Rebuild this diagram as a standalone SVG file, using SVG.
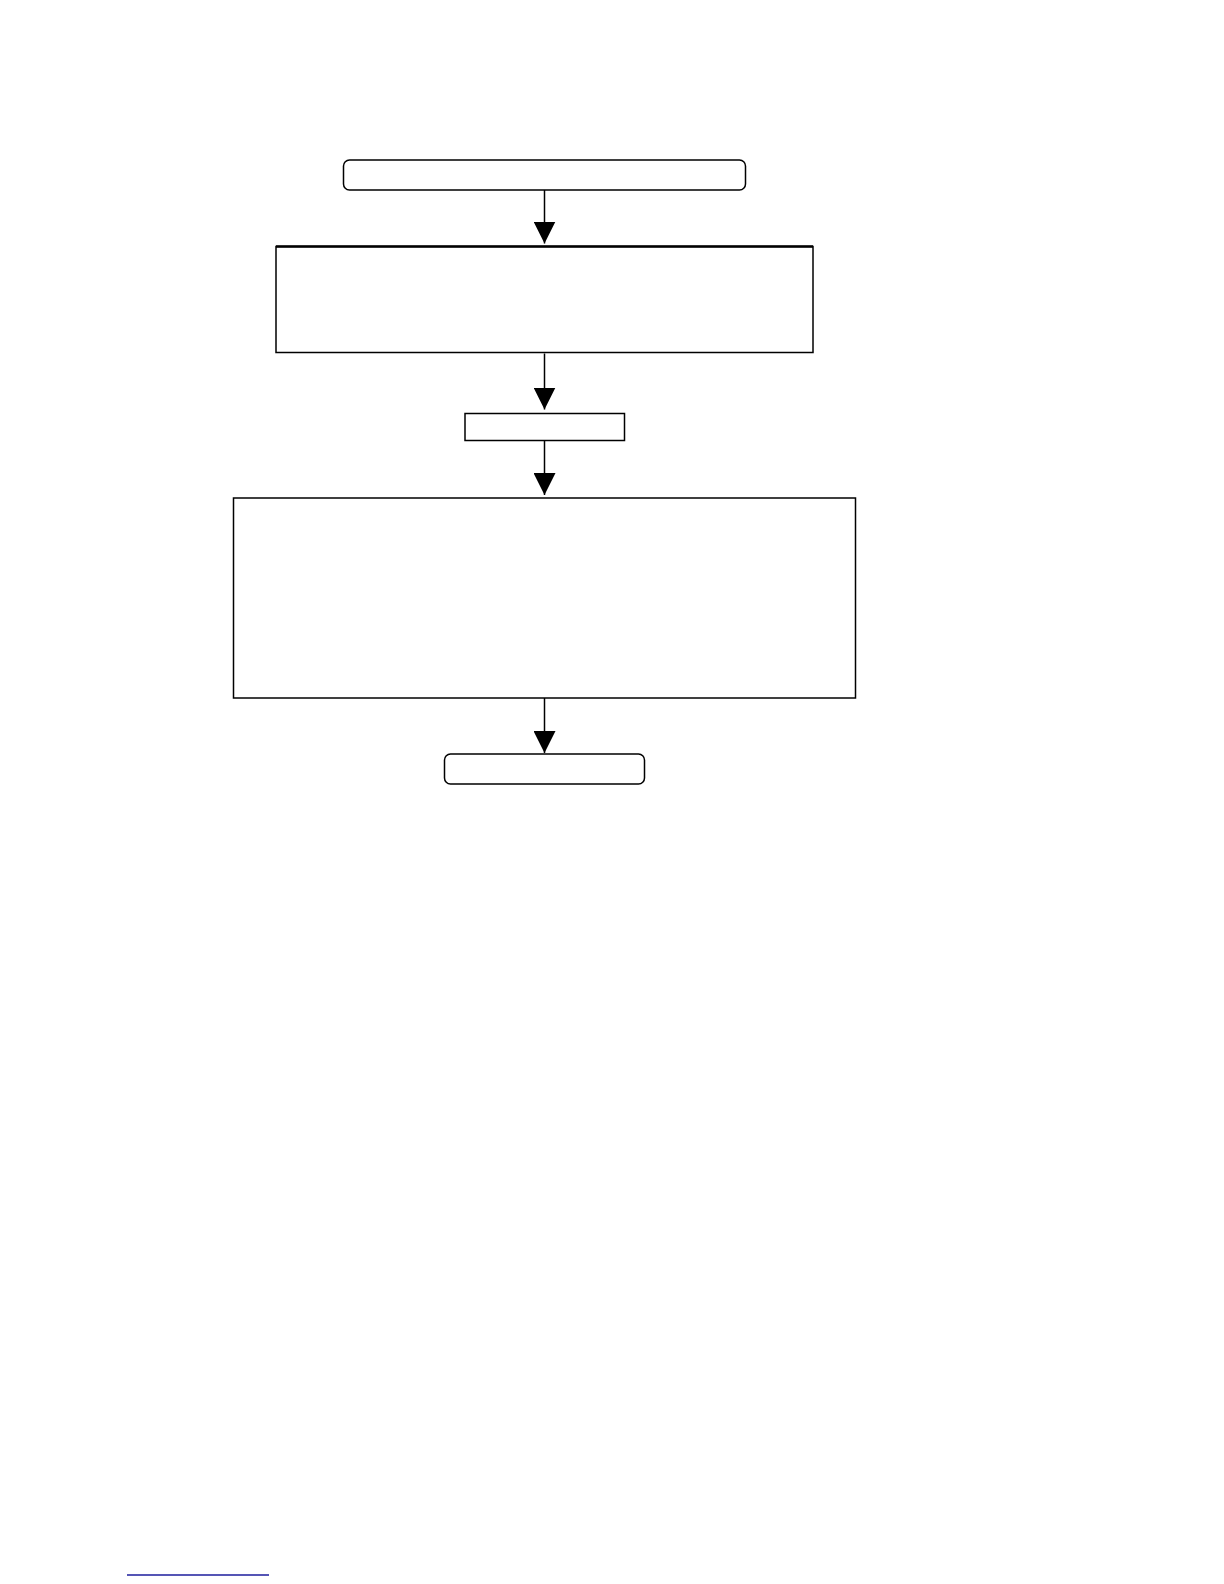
<svg xmlns="http://www.w3.org/2000/svg" width="1224" height="1584" viewBox="0 0 1224 1584">
<style>
.box{fill:#fff;stroke:#000;stroke-width:1.5}
.conn{stroke:#000;stroke-width:1.5;fill:none}
</style>
<defs>
<marker id="ah" markerWidth="22" markerHeight="22" refX="22" refY="11" orient="auto" markerUnits="userSpaceOnUse">
<path d="M0,0 L22,11 L0,22 Z" fill="#000"/>
</marker>
</defs>
<rect width="1224" height="1584" fill="#fff"/>
<g id="connectors">
<line class="conn" x1="544.5" y1="190" x2="544.5" y2="243.5" marker-end="url(#ah)"/>
<line class="conn" x1="544.5" y1="353.5" x2="544.5" y2="409.5" marker-end="url(#ah)"/>
<line class="conn" x1="544.5" y1="440.5" x2="544.5" y2="495" marker-end="url(#ah)"/>
<line class="conn" x1="544.5" y1="698" x2="544.5" y2="753" marker-end="url(#ah)"/>
</g>
<g id="n1"><rect class="box" x="343.5" y="160" width="402" height="30" rx="6"/></g>
<g id="n2"><rect class="box" x="276" y="246.5" width="537" height="106"/><line x1="276" y1="246.5" x2="813" y2="246.5" stroke="#000" stroke-width="2.5"/></g>
<g id="n3"><rect class="box" x="465" y="413.5" width="159.5" height="27"/></g>
<g id="n4"><rect class="box" x="233.5" y="498" width="622" height="200"/></g>
<g id="n5"><rect class="box" x="444.5" y="754" width="200" height="30" rx="6"/></g>
<line x1="127" y1="1575" x2="269" y2="1575" stroke="#1c1c9c" stroke-width="1.5"/>
</svg>
